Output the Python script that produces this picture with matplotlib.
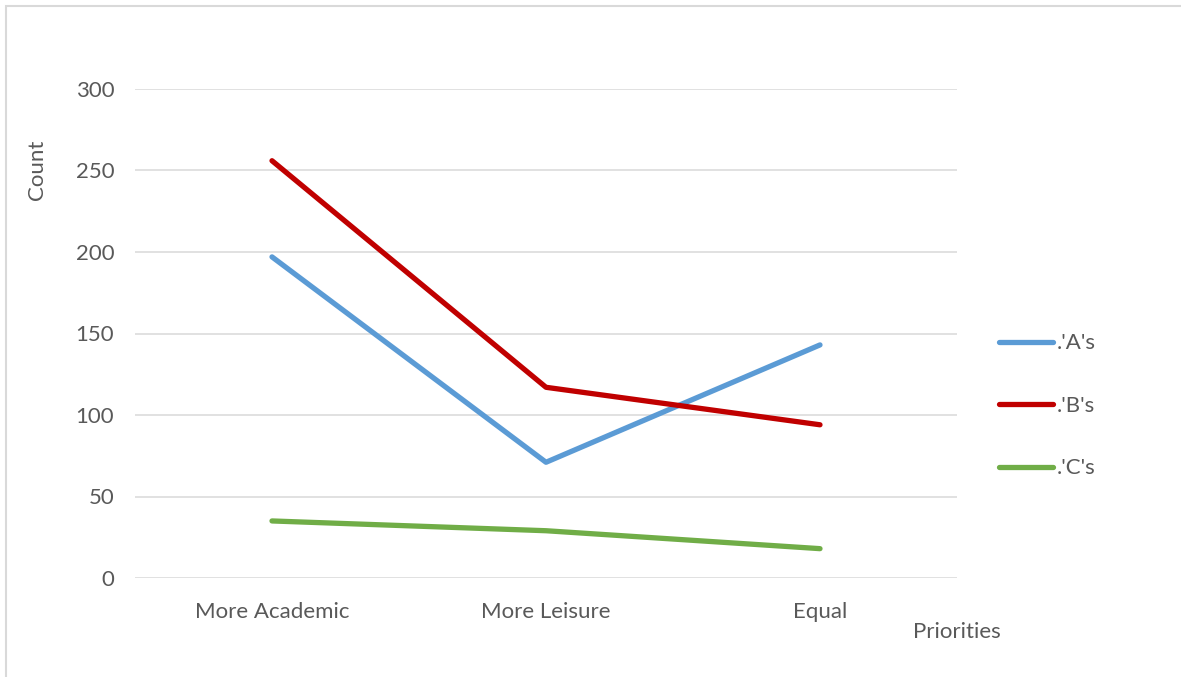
import numpy as np
import matplotlib.pyplot as plt
from matplotlib.patches import Rectangle

plt.rcParams['font.family'] = ['Lato', 'DejaVu Sans']

# data
categories = ['More Academic', 'More Leisure', 'Equal']
a_counts = [197, 71, 143]
b_counts = [256, 117, 94]
c_counts = [35, 29, 18]
series_names = [".'A's", ".'B's", ".'C's"]
colors = ['#5B9BD5', '#C00000', '#70AD47']
yticks = [0, 50, 100, 150, 200, 250, 300]

txt = '#595959'
grid = '#D9D9D9'
fs = 16

fig = plt.figure(figsize=(11.81, 6.77), dpi=100)
ax = fig.add_axes([135/1181, 1 - 578/677, 822/1181, 489/677])

x = np.arange(len(categories))
for vals, name, col in zip([a_counts, b_counts, c_counts], series_names, colors):
    ax.plot(x, vals, color=col, lw=3.8, label=name, solid_capstyle='round')

ax.set_xlim(-0.5, len(categories) - 0.5)
ax.set_ylim(0, 300)
ax.set_yticks(yticks)
ax.set_xticks(x)
ax.set_xticklabels(categories)
ax.grid(axis='y', color=grid, lw=1.1)
ax.set_axisbelow(True)
for s in ax.spines.values():
    s.set_visible(False)
ax.tick_params(length=0, labelsize=fs, labelcolor=txt)
ax.tick_params(axis='y', pad=15)
ax.tick_params(axis='x', pad=17)

ax.set_xlabel('Priorities', fontsize=fs, color=txt)
ax.xaxis.set_label_coords(1.0, -0.09)
ax.set_ylabel('Count', fontsize=fs, color=txt)
ax.yaxis.set_label_coords(-0.107, 0.834)

ax.legend(loc='center left', bbox_to_anchor=(1.0, 0.352), frameon=False,
          fontsize=fs, labelcolor=txt, handlelength=2.4, handletextpad=0.2,
          labelspacing=1.91, borderaxespad=1.5)

fig.patches.append(Rectangle((6/1181, -0.1), 1.2, 1 - 6/677 + 0.1,
                             transform=fig.transFigure, fill=False,
                             edgecolor=grid, lw=1.5))

fig.savefig('out.png', dpi=100)
